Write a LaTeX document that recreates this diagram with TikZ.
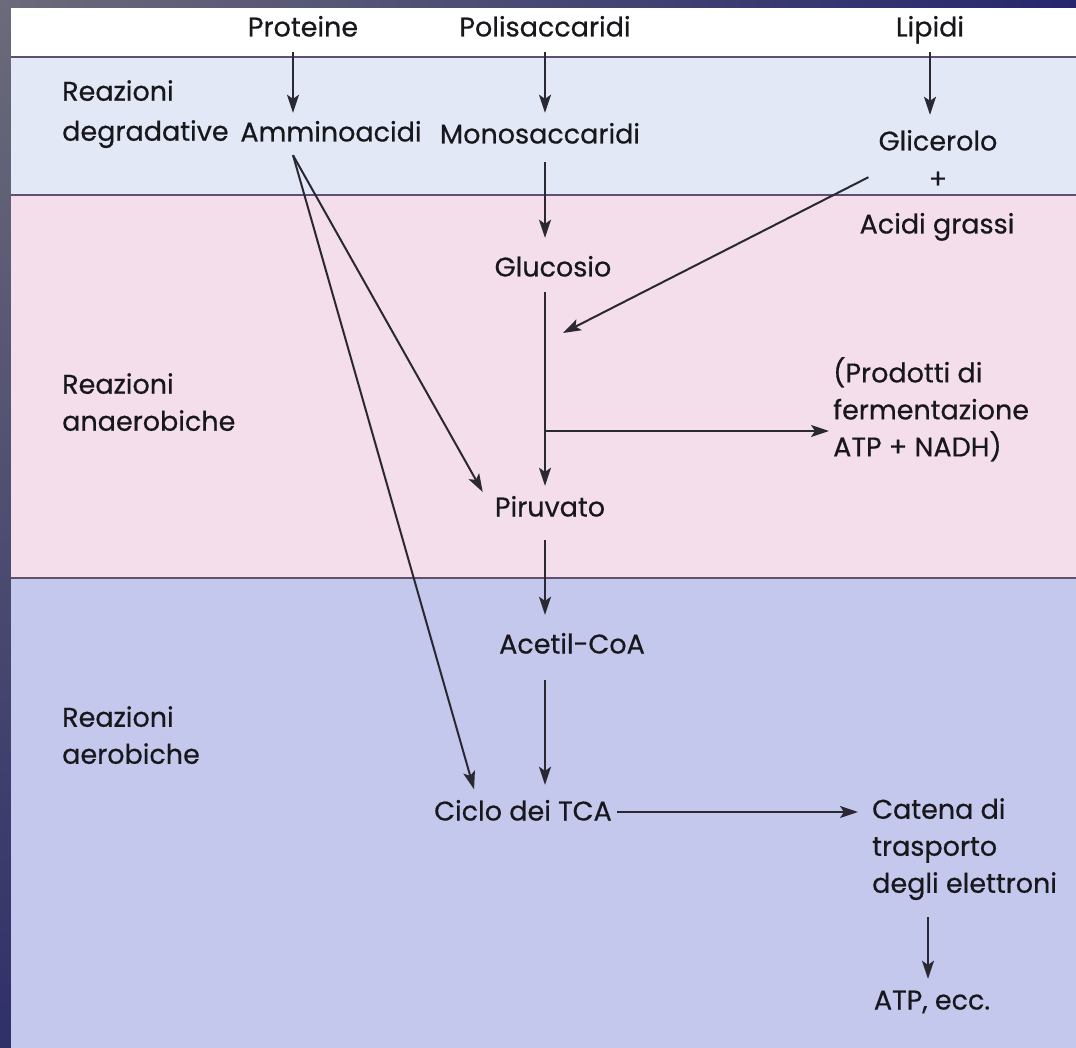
\documentclass[tikz,border=0pt]{standalone}
\usepackage{fontspec}
\setmainfont{Poppins}[FakeBold=0.5]
\usetikzlibrary{arrows.meta,calc,shadings}
\definecolor{frameA}{RGB}{107,107,122}
\definecolor{frameB}{RGB}{38,38,110}
\definecolor{frameC}{RGB}{48,48,105}
\definecolor{bandTop}{RGB}{226,232,246}
\definecolor{bandMid}{RGB}{244,222,235}
\definecolor{bandLow}{RGB}{195,200,236}
\definecolor{rule}{RGB}{95,80,110}
\definecolor{ink}{RGB}{24,24,28}
\definecolor{arrowink}{RGB}{42,40,50}
\tikzset{
  lbl/.style={inner sep=0pt, text height=19pt, text depth=6pt, text=ink, font=\fontsize{27}{37}\selectfont},
  mlbl/.style={inner sep=0pt, align=left, text=ink, font=\fontsize{27}{37}\selectfont},
  arr/.style={draw=arrowink, line width=2pt, -{Stealth[length=18pt,width=12pt,inset=4pt]}},
  bandrule/.style={draw=rule, line width=1.8pt}
}
\begin{document}
\begin{tikzpicture}[x=1pt,y=-1pt]
\useasboundingbox (0,0) rectangle (1076,1048);
% frame and bands
\shade[upper left=frameA, upper right=frameB, lower left=frameC, lower right=frameB] (0,0) rectangle (1076,1048);
\fill[white] (11,8) rectangle (1076,57);
\fill[bandTop] (11,57) rectangle (1076,195);
\fill[bandMid] (11,195) rectangle (1076,578);
\fill[bandLow] (11,578) rectangle (1076,1048);
\draw[bandrule] (11,57) -- (1076,57);
\draw[bandrule] (11,195) -- (1076,195);
\draw[bandrule] (11,578) -- (1076,578);
% column coordinates
\coordinate (colA) at (293,0);
\coordinate (colS) at (545,0);
\coordinate (colL) at (930,0);
\coordinate (colC) at (928,0);
% side labels
\node[mlbl, anchor=north west] (reac1) at (62,80) {Reazioni\\[3pt]degradative};
\node[mlbl, anchor=north west] (reac2) at (62,373) {Reazioni\\anaerobiche};
\node[mlbl, anchor=north west] (reac3) at (62,706) {Reazioni\\aerobiche};
% top row
\node[lbl] (prot) at (303,30) {Proteine};
\node[lbl] (poli) at (545,30) {Polisaccaridi};
\node[lbl] (lip) at (930,30) {Lipidi};
% degradative
\node[lbl] (amm) at (331,135) {Amminoacidi};
\node[lbl] (mono) at (540,137) {Monosaccaridi};
\node[lbl] (glic) at (938,144) {Glicerolo};
\node[lbl] (plus) at (938,182) {+};
\node[lbl] (acidi) at (937,227) {Acidi grassi};
% anaerobic
\node[lbl] (gluc) at (553,270) {Glucosio};
\node[mlbl, anchor=north west] (prod) at (833,357) {(Prodotti di\\fermentazione\\ATP + NADH)};
\node[lbl] (piru) at (550,510) {Piruvato};
% aerobic
\node[lbl] (acet) at (572,647) {Acetil-CoA};
\node[lbl] (ciclo) at (523,814) {Ciclo dei TCA};
\node[mlbl, anchor=north west] (cat) at (872,798) {Catena di\\trasporto\\degli elettroni};
\node[lbl] (atp) at (932,1003) {ATP, ecc.};
% free-end coordinates
\coordinate (join) at (563,333);
\coordinate (fork) at (545,431);
% vertical arrows
\draw[arr] ($(prot.south -| colA)+(0,9.5)$) -- ($(amm.north -| colA)+(0,-9.5)$);
\draw[arr] ($(poli.south -| colS)+(0,9.5)$) -- ($(mono.north -| colS)+(0,-11.5)$);
\draw[arr] ($(lip.south -| colL)+(0,9.5)$) -- ($(glic.north -| colL)+(0,-16.5)$);
\draw[arr] ($(mono.south -| colS)+(0,12.5)$) -- ($(gluc.north -| colS)+(0,-19.5)$);
\draw[arr] ($(gluc.south -| colS)+(0,9.5)$) -- ($(piru.north -| colS)+(0,-11.5)$);
\draw[arr] ($(piru.south -| colS)+(0,17.5)$) -- ($(acet.north -| colS)+(0,-19.5)$);
\draw[arr] ($(acet.south -| colS)+(0,20.5)$) -- ($(ciclo.north -| colS)+(0,-16.5)$);
% diagonal arrows from Amminoacidi
\draw[arr] ($(amm.south -| colA)+(0,7.5)$) -- ($(piru.west)+(-12,-18)$);
\draw[arr] ($(amm.south -| colA)+(0,7.5)$) -- ($(ciclo.north west)+(40,-12)$);
% Glicerolo branch
\draw[arr] ($(glic.south west)+(-10,20.5)$) -- (join);
% fermentation branch
\draw[arr] (fork) -- ($(fork -| prod.west)+(-4,0)$);
% TCA to electron transport chain
\draw[arr] ($(ciclo.east)+(5,-2)$) -- ($(ciclo.east -| cat.west)+(-14,-2)$);
\draw[arr] ($(cat.south -| colC)+(0,17)$) -- ($(atp.north -| colC)+(0,-11.5)$);
\end{tikzpicture}
\end{document}
